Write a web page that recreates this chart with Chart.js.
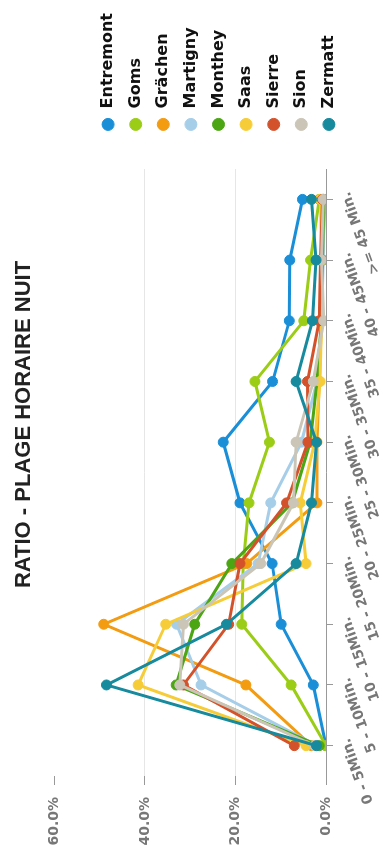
<!DOCTYPE html>
<html>
<head>
<meta charset="utf-8">
<title>Ratio - plage horaire nuit</title>
<script src="https://cdn.jsdelivr.net/npm/chart.js@4"></script>
<style>
  html, body { margin: 0; padding: 0; background: #fff; overflow: hidden; }
  /* chart is drawn landscape then turned a quarter turn to the left */
  #wrap {
    position: absolute; left: 0; top: 0;
    width: 852px; height: 385px;
    transform-origin: 0 0;
    transform: translate(0, 852px) rotate(-90deg);
  }
</style>
</head>
<body>
<div id="wrap"><canvas id="chart" width="852" height="385"></canvas></div>
<script>
// categories (minutes)
const categories = ['0 - 5Min.', '5 - 10Min.', '10 - 15Min.', '15 - 20Min.', '20 - 25Min.',
  '25 - 30Min.', '30 - 35Min.', '35 - 40Min.', '40 - 45Min.', '>= 45 Min.'];

// ratio in % per region
const entremont = [0, 2.8, 9.9, 11.9, 19.0, 22.7, 11.8, 8.1, 8.0, 5.2];
const goms      = [0, 7.7, 18.6, 18.3, 17.0, 12.5, 15.7, 4.9, 3.4, 1.5];
const grachen   = [3.2, 17.7, 49.1, 17.5, 2.0, 2.0, 1.5, 1.0, 0.8, 0.2];
const martigny  = [2.0, 27.6, 33.0, 15.0, 12.2, 5.4, 2.0, 1.0, 0.6, 0.5];
const monthey   = [1.5, 33.1, 29.0, 20.8, 7.5, 3.5, 2.0, 1.0, 0.8, 0.5];
const saas      = [4.4, 41.5, 35.4, 4.4, 5.7, 2.5, 1.3, 1.0, 1.0, 1.2];
const sierre    = [7.0, 31.5, 21.5, 19.0, 8.7, 4.0, 4.1, 1.5, 1.2, 0.8];
const sion      = [2.5, 32.3, 31.5, 14.4, 7.2, 6.6, 2.8, 0.5, 1.0, 0.6];
const zermatt   = [2.1, 48.5, 22.0, 6.6, 3.2, 2.1, 6.6, 3.0, 2.2, 3.2];

const regions = ['Entremont', 'Goms', 'Grächen', 'Martigny', 'Monthey', 'Saas', 'Sierre', 'Sion', 'Zermatt'];
const values = [entremont, goms, grachen, martigny, monthey, saas, sierre, sion, zermatt];
const colors = ['#1a8fd8', '#9bcd17', '#f39c12', '#a6cee9', '#4ca614', '#f6cd38', '#d4522b', '#cac5b6', '#178a9e'];

// y ticks
const yTicks = [0, 20, 40, 60];

const datasets = regions.map((name, i) => ({
  label: name,
  data: values[i],
  borderColor: colors[i],
  backgroundColor: colors[i],
  pointBackgroundColor: colors[i],
  pointBorderColor: colors[i],
  borderWidth: 3,
  pointRadius: 5,
  pointBorderWidth: 1,
  tension: 0,
  order: regions.length - i // last region drawn on top
}));

// push the legend away from the plot and down a bit
const legendShift = {
  id: 'legendShift',
  beforeLayout(chart) {
    const lg = chart.legend;
    if (!lg || lg._shifted) return;
    lg._shifted = true;
    const fit = lg.fit, draw = lg.draw;
    lg.fit = function () { fit.call(this); this.width += 25; };
    lg.draw = function () {
      this.ctx.save();
      this.ctx.translate(25, 26);
      draw.call(this);
      this.ctx.restore();
    };
  }
};

const tickFont = { family: 'DejaVu Sans', size: 14, weight: 'bold' };

new Chart(document.getElementById('chart'), {
  type: 'line',
  data: { labels: categories, datasets: datasets },
  plugins: [legendShift],
  options: {
    responsive: false,
    animation: false,
    devicePixelRatio: 1,
    layout: { padding: { left: 6, right: 3, bottom: 0 } },
    plugins: {
      title: {
        display: true,
        text: 'RATIO - PLAGE HORAIRE NUIT',
        color: '#222',
        font: { family: 'Liberation Sans', size: 22, weight: 'bold' },
        padding: { top: 11, bottom: 17 }
      },
      legend: {
        position: 'right',
        labels: {
          usePointStyle: true,
          pointStyle: 'circle',
          boxHeight: 8.5,
          padding: 11.6,
          color: '#111',
          font: { family: 'DejaVu Sans', size: 16, weight: 'bold' },
          sort: (a, b) => a.datasetIndex - b.datasetIndex
        }
      },
      tooltip: { enabled: false }
    },
    scales: {
      x: {
        offset: true,
        // labels may hang over the y labels, keep the axis height fixed
        afterFit: (s) => { s.paddingLeft = 0; s.height = 59; },
        border: { display: true, color: '#999', width: 1 },
        grid: { display: true, drawOnChartArea: false, offset: false, tickLength: 7, tickColor: '#999' },
        ticks: {
          autoSkip: false, minRotation: 20, maxRotation: 20, padding: 5, labelOffset: 7,
          color: '#777', font: tickFont
        }
      },
      y: {
        min: 0, max: 60,
        afterBuildTicks: (scale) => { scale.ticks = yTicks.map(v => ({ value: v })); },
        afterFit: (s) => { s.width = 70; },
        border: { display: false },
        grid: {
          color: (c) => (c.tick && c.tick.value === 60 ? 'rgba(0,0,0,0)' : '#e6e6e6'),
          tickLength: 9,
          tickColor: '#999'
        },
        ticks: {
          padding: 12,
          color: '#777',
          font: tickFont,
          callback: (v) => v.toFixed(1) + '%'
        }
      }
    }
  }
});
</script>
</body>
</html>
